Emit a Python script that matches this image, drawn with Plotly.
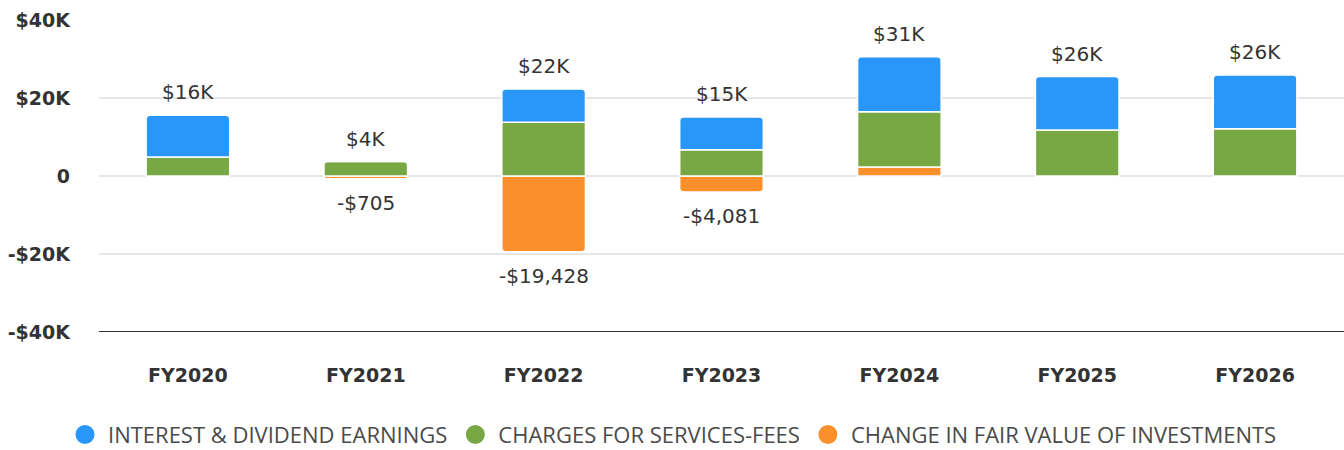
import plotly.graph_objects as go

years = ["FY2020", "FY2021", "FY2022", "FY2023", "FY2024", "FY2025", "FY2026"]
interest_dividend = [10700, 0, 8500, 8400, 14100, 13700, 13800]
service_fees = [4900, 3700, 13800, 6700, 14200, 11800, 12100]
fair_value_change = [0, -705, -19428, -4081, 2300, 0, 0]

y_ticks = [-40000, -20000, 0, 20000, 40000]
y_tick_text = ["-$40K", "-$20K", "0", "$20K", "$40K"]

BLUE = "#2997f9"
GREEN = "#77a843"
ORANGE = "#fa8f2c"
TEXT = "#333333"
LABEL_FONT = "DejaVu Sans"

fig = go.Figure()

# Trace order sets the stacking order from the baseline outward
series = [
    ("CHANGE IN FAIR VALUE OF INVESTMENTS", fair_value_change, ORANGE, 3),
    ("CHARGES FOR SERVICES-FEES", service_fees, GREEN, 2),
    ("INTEREST & DIVIDEND EARNINGS", interest_dividend, BLUE, 1),
]
for name, vals, color, rank in series:
    fig.add_trace(go.Bar(
        x=years, y=vals, name=name, legendgroup=name, showlegend=False,
        marker=dict(color=color, line=dict(color="white", width=1.5), cornerradius=4),
        hoverinfo="x+y+name",
    ))
    # Round legend swatch for the series
    fig.add_trace(go.Scatter(
        x=[None], y=[None], mode="markers", name=name, legendgroup=name,
        legendrank=rank,
        marker=dict(color=color, size=16, symbol="circle",
                    line=dict(color=color, width=3)),
    ))

# Stack totals above and below the baseline
for i, yr in enumerate(years):
    parts = [interest_dividend[i], service_fees[i], fair_value_change[i]]
    pos = sum(v for v in parts if v > 0)
    neg = sum(v for v in parts if v < 0)
    if pos > 0:
        fig.add_annotation(x=yr, y=pos, text=f"${round(pos / 1000):.0f}K",
                           showarrow=False, yanchor="bottom", yshift=9,
                           font=dict(family=LABEL_FONT, size=20, color=TEXT))
    if neg < 0:
        fig.add_annotation(x=yr, y=neg, text=f"-${abs(neg):,.0f}",
                           showarrow=False, yanchor="top", yshift=-10,
                           font=dict(family=LABEL_FONT, size=20, color=TEXT))

fig.update_layout(
    width=1344, height=450,
    barmode="relative", bargap=0.53,
    paper_bgcolor="white", plot_bgcolor="white",
    margin=dict(l=99, r=0, t=20, b=118, autoexpand=False),
    showlegend=True,
    legend=dict(orientation="h", xref="container", yref="paper",
                x=0.5, xanchor="center", y=-0.262, yanchor="top",
                font=dict(family="Open Sans", size=22, color="#4a4a4a"),
                itemsizing="trace", itemwidth=36, traceorder="normal"),
    font=dict(family=LABEL_FONT, color=TEXT),
)
fig.update_xaxes(showgrid=False, showline=False, ticks="",
                 ticklabelstandoff=30,
                 tickfont=dict(family=LABEL_FONT, size=19, color=TEXT, weight="bold"))
fig.update_yaxes(range=[-40000, 40000], tickvals=y_ticks, ticktext=y_tick_text,
                 showgrid=True, gridcolor="#e6e6e6", gridwidth=2,
                 zeroline=False, showline=False, ticks="",
                 ticklabelstandoff=28,
                 tickfont=dict(family=LABEL_FONT, size=19, color=TEXT, weight="bold"))
# Dark baseline along the bottom of the plot
fig.add_shape(type="line", xref="paper", yref="y", x0=0, x1=1, y0=-40000, y1=-40000,
              line=dict(color="#333333", width=2), layer="above")

fig.write_html("out.html")
